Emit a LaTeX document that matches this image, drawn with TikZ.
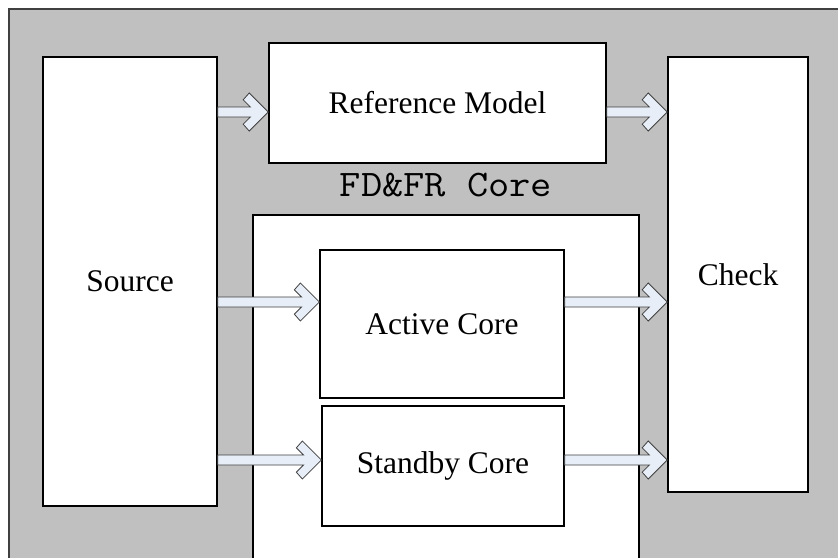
\documentclass[tikz,border=0pt]{standalone}
\usepackage{fontspec}
\setmainfont{Liberation Serif}
\newfontfamily\titlefont[FakeStretch=1.1]{Latin Modern Mono}
\usetikzlibrary{calc,positioning}
\definecolor{framegray}{RGB}{192,192,192}
\definecolor{arrfill}{RGB}{232,238,248}
\definecolor{arrline}{RGB}{64,64,64}

\begin{document}
\begin{tikzpicture}[x=1pt, y=-1pt,
  block/.style={draw, fill=white, line width=1.6pt, inner sep=0pt,
                align=center, font=\fontsize{31.5}{36}\selectfont},
  barr/.style={draw=arrline, fill=arrfill, line width=0.8pt, line join=miter,
    to path={let \p1=(\tikztostart), \p2=(\tikztotarget) in
      (\x1,\y2+5pt) -- (\x2-17.8pt,\y2+5pt) -- (\x2-25pt,\y2+12.2pt)
      -- (\x2-19pt,\y2+19pt) -- (\x2,\y2) -- (\x2-19pt,\y2-19pt)
      -- (\x2-25pt,\y2-12.2pt) -- (\x2-17.8pt,\y2-5pt) -- (\x1,\y2-5pt)
      -- cycle}}
]
\useasboundingbox (0,0) rectangle (838,557);
\clip (0,0) rectangle (838,557);
% grey background frame (open to the right and bottom)
\draw[fill=framegray, draw=arrline, line width=1.2pt] (9,9) rectangle (870,590);

\node[block, minimum width=174, minimum height=449] (src) at (130,281.5) {Source};
\node[block, minimum width=337, minimum height=120] (ref) at (437.5,103) {Reference Model};
\node[block, minimum width=140, minimum height=435] (chk) at (738,274.5) {Check};
\node[block, minimum width=386, minimum height=375] (core) at (446,402.5) {};
\node[anchor=base, font=\fontsize{37.5}{40}\titlefont] (title)
  at ([yshift=18pt]core.north) {FD\&FR Core};
\node[block, minimum width=244, minimum height=148, line width=1.3pt] (act) at (442,324) {Active Core};
\node[block, minimum width=242, minimum height=120, line width=1.3pt] (stb) at (443,466) {Standby Core};

% rows of the block arrows
\coordinate (r1) at (0,112);
\coordinate (r2) at (0,302);
\coordinate (r3) at (0,460);
\draw[barr] (src.east |- r1) to (ref.west |- r1);
\draw[barr] (ref.east |- r1) to (chk.west |- r1);
\draw[barr] (src.east |- r2) to (act.west |- r2);
\draw[barr] (act.east |- r2) to (chk.west |- r2);
\draw[barr] (src.east |- r3) to (stb.west |- r3);
\draw[barr] (stb.east |- r3) to (chk.west |- r3);
\end{tikzpicture}
\end{document}
